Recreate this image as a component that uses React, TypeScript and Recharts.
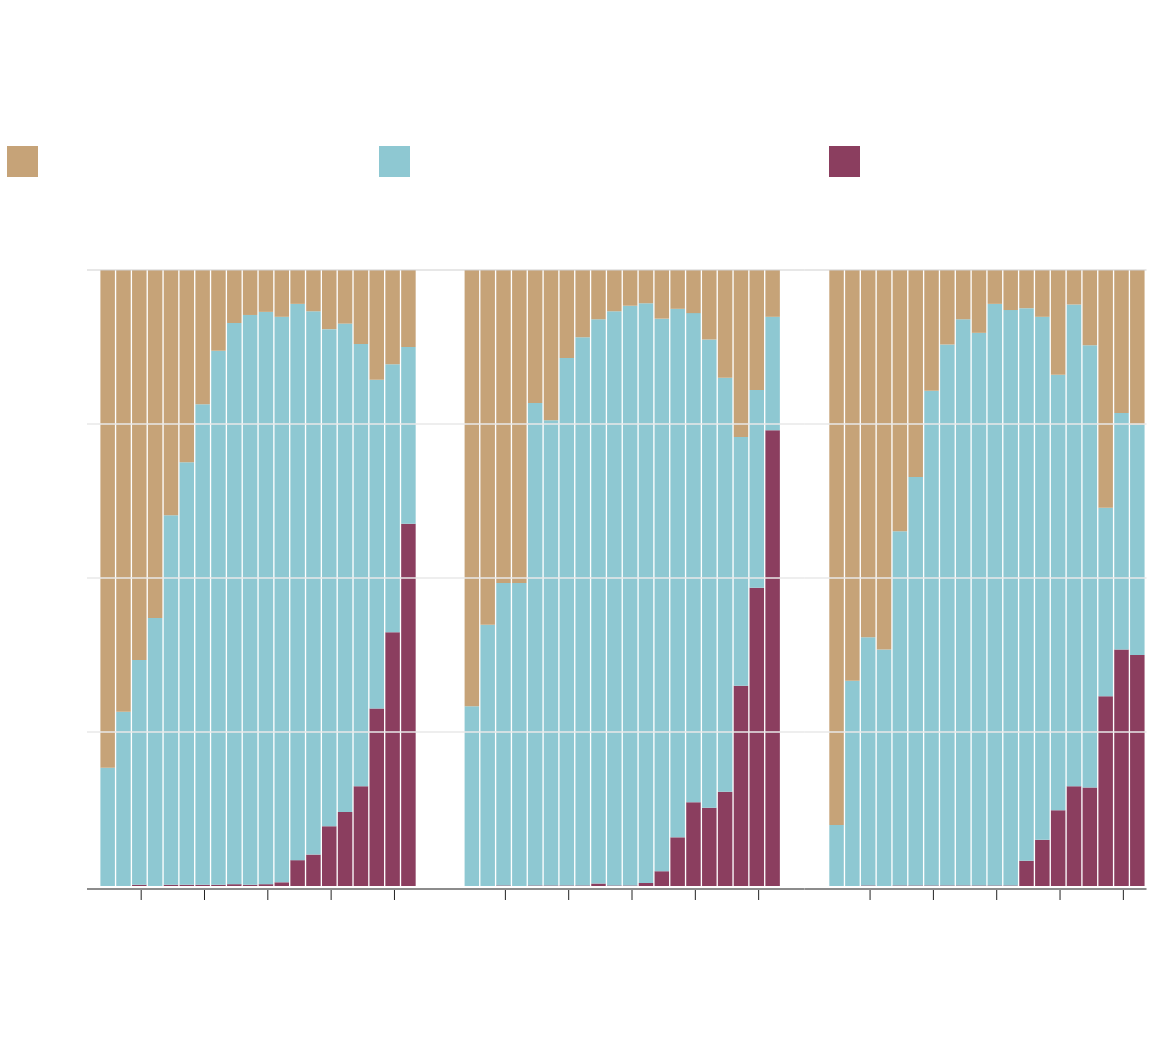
import React from 'react';
import { BarChart, Bar, XAxis, YAxis, ReferenceLine } from 'recharts';

// Twenty periods per panel
const periods = [
  '1', '2', '3', '4', '5', '6', '7', '8', '9', '10',
  '11', '12', '13', '14', '15', '16', '17', '18', '19', '20',
];

// Shares in percent, one array per series and panel (bottom: plum, middle: sky, top: sand)
const panelAPlum = [0, 0, 0.2, 0, 0.2, 0.2, 0.2, 0.2, 0.3, 0.2, 0.3, 0.6, 4.2, 5.1, 9.7, 12.0, 16.2, 28.8, 41.2, 58.8];
const panelASky = [19.2, 28.3, 36.5, 43.5, 60.0, 68.6, 78.0, 86.7, 91.1, 92.5, 92.9, 91.8, 90.3, 88.2, 80.7, 79.3, 71.8, 53.4, 43.5, 28.7];
const panelASand = [80.8, 71.7, 63.3, 56.5, 39.8, 31.2, 21.8, 13.1, 8.6, 7.3, 6.8, 7.6, 5.5, 6.7, 9.6, 8.7, 12.0, 17.8, 15.3, 12.5];

const panelBPlum = [0, 0, 0.1, 0, 0.1, 0.1, 0.1, 0.1, 0.4, 0.1, 0.1, 0.5, 2.4, 7.9, 13.6, 12.7, 15.3, 32.5, 48.4, 74.0];
const panelBSky = [29.2, 42.4, 49.1, 49.2, 78.3, 75.5, 85.6, 89.0, 91.6, 93.2, 94.1, 94.1, 89.7, 85.8, 79.4, 76.0, 67.2, 40.4, 32.1, 18.4];
const panelBSand = [70.8, 57.6, 50.8, 50.8, 21.6, 24.4, 14.3, 10.9, 8.0, 6.7, 5.8, 5.4, 7.9, 6.3, 7.0, 11.3, 17.5, 27.1, 19.5, 7.6];

const panelCPlum = [0, 0, 0.1, 0, 0.1, 0.1, 0.1, 0.1, 0.1, 0.1, 0.1, 0.1, 4.1, 7.5, 12.3, 16.2, 16.0, 30.8, 38.4, 37.5];
const panelCSky = [9.9, 33.3, 40.3, 38.4, 57.5, 66.3, 80.3, 87.8, 91.9, 89.7, 94.4, 93.4, 89.7, 84.9, 70.7, 78.2, 71.8, 30.6, 38.4, 37.4];
const panelCSand = [90.1, 66.7, 59.6, 61.6, 42.4, 33.6, 19.6, 12.1, 8.0, 10.2, 5.5, 6.5, 6.2, 7.6, 17.0, 5.6, 12.2, 38.6, 23.2, 25.1];

const gridValues = [25, 50, 75];

const SERIES = [
  { key: 'plum', color: '#8b3e5f' },
  { key: 'sky', color: '#8ec8d2' },
  { key: 'sand', color: '#c6a378' },
];

const buildRows = (plum: number[], sky: number[], sand: number[]) =>
  periods.map((period, i) => ({ period, plum: plum[i], sky: sky[i], sand: sand[i] }));

const PANELS = [
  { rows: buildRows(panelAPlum, panelASky, panelASand), left: 87, right: 440, padL: 12.4, padR: 24 },
  { rows: buildRows(panelBPlum, panelBSky, panelBSand), left: 440, right: 804.5, padL: 23.6, padR: 24.3 },
  { rows: buildRows(panelCPlum, panelCSky, panelCSand), left: 804.5, right: 1146.5, padL: 23.8, padR: 1.6 },
];

const WIDTH = 1160;
const HEIGHT = 1000;

// Tick marks every fourth period, no labels
const TickMark = (props: any) => {
  const { x, y, index } = props;
  if (index % 4 !== 2) return <g />;
  return <line x1={x + 2.2} x2={x + 2.2} y1={y + 4} y2={y + 14} stroke="#222" strokeWidth={1} />;
};

const Panel = ({ panel }: { panel: (typeof PANELS)[number] }) => (
  <div style={{ position: 'absolute', left: 0, top: 0 }}>
    <BarChart
      width={WIDTH}
      height={HEIGHT}
      data={panel.rows}
      margin={{ top: 270, bottom: 84, left: panel.left, right: WIDTH - panel.right }}
      barSize={14.5}
    >
      <XAxis
        dataKey="period"
        type="category"
        interval={0}
        height={30}
        tickSize={0}
        tickMargin={0}
        tickLine={false}
        tick={<TickMark />}
        padding={{ left: panel.padL, right: panel.padR }}
        axisLine={{ stroke: '#8c8c8c', strokeWidth: 2, transform: 'translate(0,3)' }}
      />
      <YAxis type="number" domain={[0, 100]} hide />
      {SERIES.map((s) => (
        <Bar key={s.key} dataKey={s.key} stackId="share" fill={s.color} isAnimationActive={false} />
      ))}
      {gridValues.map((v) => (
        <ReferenceLine key={v} y={v} stroke="#e8e8e8" strokeWidth={1.5} />
      ))}
      <ReferenceLine y={100} stroke="#cfcfcf" strokeWidth={1} />
    </BarChart>
  </div>
);

const LEGEND_ORDER = ['sand', 'sky', 'plum'];
const LEGEND_X = [7, 379, 829];

export default function App() {
  return (
    <div style={{ position: 'absolute', left: 0, top: 0, width: WIDTH, height: 1052, background: '#fff' }}>
      {LEGEND_ORDER.map((key, i) => {
        const s = SERIES.find((d) => d.key === key)!;
        return (
          <div
            key={key}
            style={{ position: 'absolute', left: LEGEND_X[i], top: 146, width: 31, height: 31, background: s.color }}
          />
        );
      })}
      {PANELS.map((p, i) => (
        <Panel key={i} panel={p} />
      ))}
    </div>
  );
}
